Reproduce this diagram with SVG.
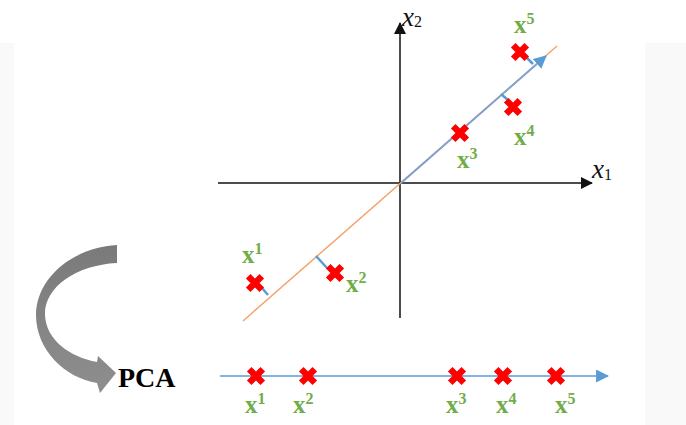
<svg xmlns="http://www.w3.org/2000/svg" width="686" height="425" viewBox="0 0 686 425">
<style>
.ax{stroke:#111;stroke-width:1.5;fill:none}
.lbl{font-family:"Liberation Serif",serif;font-weight:bold;fill:#70AD47;font-size:25px}
.sup{font-size:16px}
.axl{font-family:"Liberation Serif",serif;font-style:italic;fill:#111;font-size:27px}
.sub{font-style:normal;font-size:16px}
.proj{stroke:#5B9BD5;stroke-width:2.5;fill:none}
</style>
<defs>
<path id="cross" d="M-6.8,-6.8 L6.8,6.8 M6.8,-6.8 L-6.8,6.8" stroke="#FF0000" stroke-width="6.5" fill="none"/>
<marker id="blk" viewBox="0 0 12 12" refX="11" refY="6" markerWidth="12" markerHeight="12" markerUnits="userSpaceOnUse" orient="auto"><path d="M0,0 L12,6 L0,12 Z" fill="#111"/></marker>
<marker id="blu" viewBox="0 0 12 12" refX="11" refY="6" markerWidth="13" markerHeight="13" markerUnits="userSpaceOnUse" orient="auto"><path d="M0,0 L12,6 L0,12 Z" fill="#5B9BD5"/></marker>
<linearGradient id="gg" x1="0" y1="0" x2="0" y2="1"><stop offset="0" stop-color="#7a7a7a"/><stop offset="1" stop-color="#8e8e8e"/></linearGradient>
</defs>
<rect x="0" y="0" width="686" height="425" fill="#fff"/>
<rect x="0" y="43" width="14" height="382" fill="#f9f9f9"/>
<rect x="645" y="43" width="41" height="382" fill="#f9f9f9"/>

<g id="connectors">
<line class="ax" x1="400" y1="318" x2="400" y2="23" marker-end="url(#blk)"/>
<line class="ax" x1="218" y1="183" x2="592" y2="183" stroke="#333" marker-end="url(#blk)"/>
<line x1="243" y1="321" x2="557" y2="46" stroke="#F4A46E" stroke-width="1.5"/>
<line x1="401" y1="183" x2="546" y2="56" stroke="#7FA3CF" stroke-width="2" marker-end="url(#blu)"/>
<line class="proj" x1="527" y1="58" x2="533" y2="64"/>
<line class="proj" x1="501" y1="94" x2="508" y2="100"/>
<line class="proj" x1="262" y1="288" x2="268" y2="295"/>
<line class="proj" x1="316" y1="256" x2="327" y2="268"/>
<line x1="220" y1="376" x2="608" y2="376" stroke="#5B9BD5" stroke-width="1.5" marker-end="url(#blu)"/>
<path id="pca-arrow" d="M117,245 C70,248 36,280 36,315 C36,350 65,378 97,383 L100,393 L116,373 L98,356 L97,362 C70,357 46,340 45,315 C44,288 75,265 117,263 Z" fill="url(#gg)"/>
</g>

<g id="axis-labels">
<text class="axl" x="402" y="26">x<tspan class="sub" dy="1">2</tspan></text>
<text class="axl" x="592" y="178">x<tspan class="sub" dy="2">1</tspan></text>
</g>

<g id="p5"><use href="#cross" x="520" y="52"/><text class="lbl" x="514" y="33">x<tspan class="sup" dy="-9">5</tspan></text></g>
<g id="p4"><use href="#cross" x="513" y="107"/><text class="lbl" x="514" y="145">x<tspan class="sup" dy="-9">4</tspan></text></g>
<g id="p3"><use href="#cross" x="460" y="133"/><text class="lbl" x="457" y="168">x<tspan class="sup" dy="-9">3</tspan></text></g>
<g id="p1"><use href="#cross" x="255" y="283"/><text class="lbl" x="242" y="263">x<tspan class="sup" dy="-9">1</tspan></text></g>
<g id="p2"><use href="#cross" x="335" y="273"/><text class="lbl" x="346" y="292">x<tspan class="sup" dy="-9">2</tspan></text></g>

<g id="pca"><text x="118" y="387" font-family="Liberation Serif,serif" font-weight="bold" font-size="28" fill="#000">PCA</text></g>

<g id="q1"><use href="#cross" x="256" y="376"/><text class="lbl" x="245" y="413">x<tspan class="sup" dy="-9">1</tspan></text></g>
<g id="q2"><use href="#cross" x="308" y="376"/><text class="lbl" x="293" y="413">x<tspan class="sup" dy="-9">2</tspan></text></g>
<g id="q3"><use href="#cross" x="457" y="376"/><text class="lbl" x="446" y="413">x<tspan class="sup" dy="-9">3</tspan></text></g>
<g id="q4"><use href="#cross" x="503" y="376"/><text class="lbl" x="496" y="413">x<tspan class="sup" dy="-9">4</tspan></text></g>
<g id="q5"><use href="#cross" x="556" y="376"/><text class="lbl" x="555" y="413">x<tspan class="sup" dy="-9">5</tspan></text></g>
</svg>
